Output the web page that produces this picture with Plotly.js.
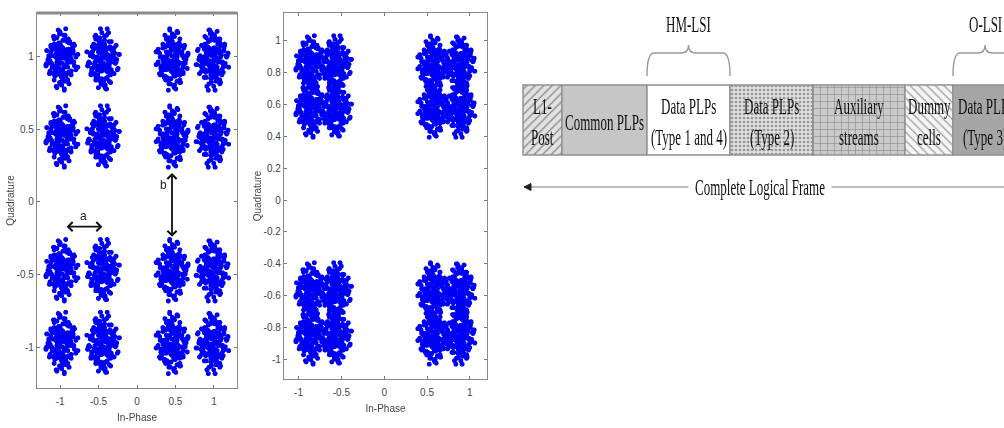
<!DOCTYPE html>
<html><head><meta charset="utf-8">
<script src="https://cdn.plot.ly/plotly-3.0.1.min.js"></script>
<style>html,body{margin:0;padding:0;background:#fff;} #chart{width:1004px;height:428px;}</style>
</head><body><div id="chart"></div>
<script>
// ---------- Constellation A (hierarchical 16-QAM) : cluster centres
const qamI = [-0.98, -0.44, 0.46, 0.98];
const qamQ = [0.98, 0.45, -0.47, -0.97];
// ---------- Constellation B : sub-cluster centres
const hmI = [-0.86, -0.56, 0.57, 0.88];
const hmQ = [0.85, 0.57, -0.57, -0.85];
// ---------- hand-typed noise pattern (std units) used for the point clouds
const noiseDx = [0.1,-0.5,1.2,-1.4,0.3,0.8,-0.9,1.7,-0.2,0.6,-1.1,0.4,-0.7,1.0,-1.8,0.2,0.9,-0.3,1.4,-0.6,
  0.0,-1.3,0.7,2.1,-0.4,1.1,-0.8,0.5,-2.0,0.3,1.5,-1.0,0.6,-0.1,-1.6,0.9,1.3,-0.5,0.2,-2.3,
  0.8,-0.2,1.9,-1.2,0.4,-0.9,1.0,0.1,-0.6,1.6,-1.5,0.5,-0.3,1.2,-0.7,2.4,-1.9,0.0,0.7,-1.1,
  0.3,1.8,-0.4,-1.7,1.1,-0.8,0.6,-2.2,1.4,-0.1];
const noiseDy = [-0.3,0.9,0.2,-0.6,1.5,-1.1,0.4,0.7,-1.8,0.1,1.2,-0.5,-0.2,1.6,0.3,-1.3,0.8,2.0,-0.9,-0.4,
  0.6,1.0,-1.5,0.2,-0.7,1.3,-2.1,0.5,0.0,1.9,-0.2,-1.0,0.7,-0.8,1.1,-1.6,0.4,2.3,0.9,-0.4,
  1.4,-1.2,-0.5,0.8,-2.4,1.7,0.0,0.3,-0.9,1.1,-0.3,-1.7,2.2,0.6,1.0,-0.6,0.2,-1.4,0.5,1.8,
  -1.0,1.2,0.4,-0.1,-1.9,0.9,1.6,0.7,-1.2,0.3];
const spreadA = 0.088, spreadB = 0.074;

// ---------- tick labels
const tickI = [-1,-0.5,0,0.5,1];
const tickIText = ['-1','-0.5','0','0.5','1'];
const tickQA = [-1,-0.5,0,0.5,1];
const tickQAText = ['-1','-0.5','0','0.5','1'];
const tickQB = [-1,-0.8,-0.6,-0.4,-0.2,0,0.2,0.4,0.6,0.8,1];
const tickQBText = ['-1','-0.8','-0.6','-0.4','-0.2','0','0.2','0.4','0.6','0.8','1'];

// ---------- frame diagram
const blockLine1 = ['L1-','Common PLPs','Data PLPs','Data PLPs','Auxiliary','Dummy','Data PLPs'];
const blockLine2 = ['Post','','(Type 1 and 4)','(Type 2)','streams','cells','(Type 3)'];
const blockWidth = [39,85,83,83,92,48,64];
const bracketLabels = ['HM-LSI','O-LSI'];
const bracketBlocks = [2,6];
const frameLabel = 'Complete Logical Frame';

// ---------- styles
const blockStyle = [
  {shape:'/', bg:'#e2e2e2', fg:'#858585', size:6, sol:0.2},
  {shape:'', bg:'#c6c6c6', fg:'#c6c6c6', size:8, sol:0.2},
  {shape:'', bg:'#ffffff', fg:'#ffffff', size:8, sol:0.2},
  {shape:'.', bg:'#dedede', fg:'#969696', size:4, sol:0.35},
  {shape:'+', bg:'#cacaca', fg:'#888888', size:7, sol:0.16},
  {shape:'\\', bg:'#f5f5f5', fg:'#9c9c9c', size:6, sol:0.2},
  {shape:'', bg:'#a6a6a6', fg:'#a6a6a6', size:8, sol:0.2}
];

function variant(k, i){
  const dx = noiseDx[i], dy = noiseDy[i];
  switch(k%4){case 0:return [dx,dy];case 1:return [-dy,dx];case 2:return [-dx,-dy];default:return [dy,-dx];}
}
function cloud(xs, ys, s){
  const X=[],Y=[]; let k=0;
  ys.forEach(q=>{xs.forEach(p=>{
    for(const v of [k,k+1]){
      for(let i=0;i<noiseDx.length;i++){const o=variant(v,i);X.push(p+o[0]*s);Y.push(q+o[1]*s);}
    }
    k++;
  });});
  return [X,Y];
}
const [ax,ay] = cloud(qamI, qamQ, spreadA);
const [bx,by] = cloud(hmI, hmQ, spreadB);

const tickFont = {family:'Liberation Sans Narrow, Liberation Sans, Arial, sans-serif', size:10, color:'#444'};
const titleFont = {family:'Liberation Sans Narrow, Liberation Sans, Arial, sans-serif', size:10, color:'#444'};
const serif = 'Liberation Serif, Times New Roman, serif';

const data = [
  {type:'scattergl', mode:'markers', x:ax, y:ay, xaxis:'x', yaxis:'y',
   marker:{size:5, color:'#0000f5'}, hoverinfo:'skip', showlegend:false},
  {type:'scattergl', mode:'markers', x:bx, y:by, xaxis:'x2', yaxis:'y2',
   marker:{size:5, color:'#0000f5'}, hoverinfo:'skip', showlegend:false}
];

// bars of the frame
const starts = []; let acc = 0;
blockWidth.forEach(w=>{starts.push(acc); acc+=w;});
const barY = 120, barH = 70;
blockWidth.forEach((w,i)=>{
  const st = blockStyle[i];
  const marker = {color: st.bg, line:{color:'#909090', width:1.4}};
  if (st.shape) marker.pattern = {shape:st.shape, bgcolor:st.bg, fgcolor:st.fg, size:st.size, solidity:st.sol, fillmode:'replace'};
  data.push({type:'bar', orientation:'h', x:[w], base:[starts[i]], y:[barY], width:[barH],
    xaxis:'x3', yaxis:'y3', marker, hoverinfo:'skip', showlegend:false});
});

const W = 1004, H = 428;
const axCommon = {showgrid:false, zeroline:false, showline:true, mirror:'ticks', ticks:'inside', ticklen:3,
  tickcolor:'#777', linecolor:'#8a8a8a', linewidth:1.2, tickfont:tickFont, fixedrange:true};

const annotations = [
  {xref:'x', yref:'y', axref:'x', ayref:'y', x:-0.45, y:-0.17, ax:-0.935, ay:-0.17, text:'', showarrow:true,
   arrowside:'end+start', arrowhead:4, arrowsize:1, arrowwidth:1.8, arrowcolor:'#111'},
  {xref:'x', yref:'y', x:-0.70, y:-0.10, text:'a', showarrow:false, font:{family:'Liberation Sans, Arial', size:12, color:'#222'}},
  {xref:'x', yref:'y', axref:'x', ayref:'y', x:0.455, y:-0.24, ax:0.455, ay:0.21, text:'', showarrow:true,
   arrowside:'end+start', arrowhead:4, arrowsize:1, arrowwidth:1.8, arrowcolor:'#111'},
  {xref:'x', yref:'y', x:0.34, y:0.12, text:'b', showarrow:false, font:{family:'Liberation Sans, Arial', size:12, color:'#222'}}
];
const firstDiagramAnn = annotations.length;
const diagFont = {family:serif, size:13, color:'#111'};
blockWidth.forEach((w,i)=>{
  const cx = starts[i] + w/2;
  if (blockLine2[i]) {
    annotations.push({xref:'x3', yref:'y3', x:cx, y:106, text:blockLine1[i], showarrow:false, font:diagFont});
    annotations.push({xref:'x3', yref:'y3', x:cx, y:137, text:blockLine2[i], showarrow:false, font:diagFont});
  } else {
    annotations.push({xref:'x3', yref:'y3', x:cx, y:122, text:blockLine1[i], showarrow:false, font:diagFont});
  }
});
const shapes = [
  {type:'line', xref:'x domain', yref:'y domain', x0:0, x1:1, y0:1, y1:1, line:{color:'#8a8a8a', width:3}}
];
bracketBlocks.forEach((b,j)=>{
  const x0 = starts[b], x1 = starts[b] + blockWidth[b], xm = (x0+x1)/2, r = 7;
  const yb = 76, yh = 53, yt = 45;
  shapes.push({type:'path', xref:'x3', yref:'y3', line:{color:'#9a9a9a', width:1.4},
    path:`M ${x0} ${yb} Q ${x0} ${yh} ${x0+r} ${yh} L ${xm-r} ${yh} Q ${xm} ${yh} ${xm} ${yt} Q ${xm} ${yh} ${xm+r} ${yh} L ${x1-r} ${yh} Q ${x1} ${yh} ${x1} ${yb}`});
  annotations.push({xref:'x3', yref:'y3', x:xm, y:24, text:bracketLabels[j], showarrow:false, font:diagFont});
});
shapes.push({type:'line', xref:'x3', yref:'y3', x0:2, x1:481, y0:187, y1:187, line:{color:'#bdbdbd', width:2}});
shapes.push({type:'path', xref:'x3', yref:'y3', path:'M 1 187 L 8 183.5 L 8 190.5 Z', fillcolor:'#222', line:{color:'#222', width:1}});
annotations.push({xref:'x3', yref:'y3', x:237, y:187, text:frameLabel, showarrow:false, font:diagFont,
  bgcolor:'#ffffff', borderpad:6});

const layout = {
  width:W, height:H, margin:{l:0,r:0,t:0,b:0}, paper_bgcolor:'#fff', plot_bgcolor:'#fff',
  barmode:'overlay', showlegend:false,
  xaxis:Object.assign({}, axCommon, {domain:[37/W, 237/W], range:[-1.3,1.3], anchor:'y', ticklabelstandoff:4,
    tickvals:tickI, ticktext:tickIText, title:{text:'In-Phase', font:titleFont, standoff:7}}),
  yaxis:Object.assign({}, axCommon, {domain:[1-388/H, 1-13/H], range:[-1.28,1.30], anchor:'x',
    tickvals:tickQA, ticktext:tickQAText, title:{text:'Quadrature', font:titleFont, standoff:0}}),
  xaxis2:Object.assign({}, axCommon, {domain:[284/W, 487/W], range:[-1.17,1.2], anchor:'y2', ticklabelstandoff:4,
    tickvals:tickI, ticktext:tickIText, title:{text:'In-Phase', font:titleFont, standoff:7}}),
  yaxis2:Object.assign({}, axCommon, {domain:[1-379/H, 1-13/H], range:[-1.12,1.17], anchor:'x2',
    tickvals:tickQB, ticktext:tickQBText, title:{text:'Quadrature', font:titleFont, standoff:0}}),
  xaxis3:{domain:[0.5,1], range:[-21,481], visible:false, fixedrange:true, anchor:'y3'},
  yaxis3:{domain:[0.5,1], range:[214,0], visible:false, fixedrange:true, anchor:'x3'},
  annotations, shapes
};

Plotly.newPlot('chart', data, layout, {staticPlot:true, displayModeBar:false}).then(gd=>{
  const S = 1.7;
  gd.querySelectorAll('.annotation').forEach(g=>{
    const idx = +g.getAttribute('data-index');
    if (!(idx >= firstDiagramAnn)) return;
    const t = g.querySelector('text.annotation-text');
    if (!t) return;
    const bb = t.getBBox();
    const cy = bb.y + bb.height/2;
    t.setAttribute('transform', `translate(0,${cy}) scale(1,${S}) translate(0,${-cy})`);
  });
});
</script>
</body></html>
